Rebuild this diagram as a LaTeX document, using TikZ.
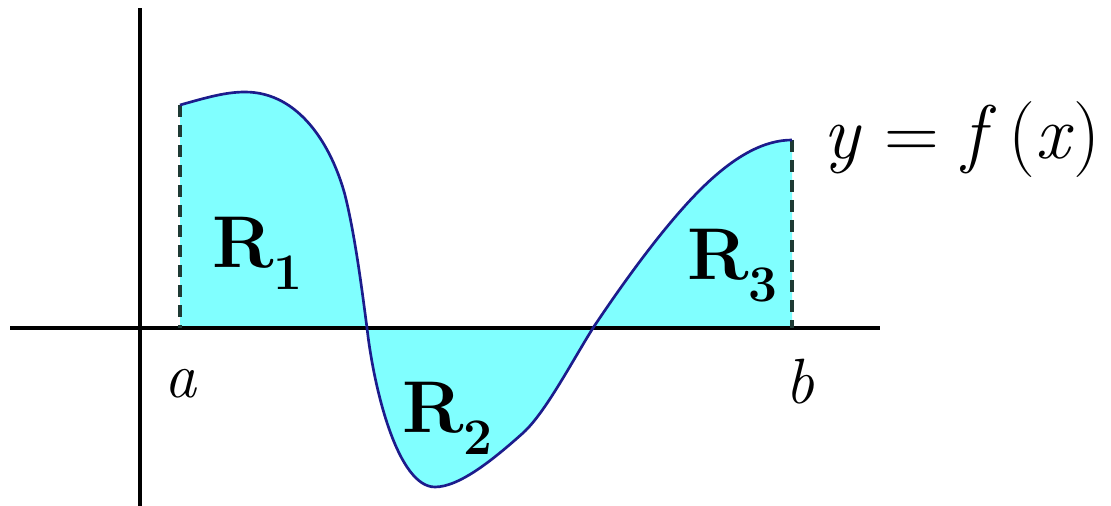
\documentclass[tikz,border=0pt]{standalone}
\usepackage{xcolor}
\definecolor{areafill}{HTML}{80FFFF}
\definecolor{curveblue}{HTML}{1C1C8C}
\definecolor{dashgray}{HTML}{1E3A34}
\usetikzlibrary{positioning}

\begin{document}
\begin{tikzpicture}[
  x=0.75pt, y=-0.75pt,
  axis/.style={line width=3pt, black},
  curve/.style={line width=2pt, curveblue},
  bound/.style={line width=2.6pt, dashgray, dash pattern=on 9pt off 6pt},
  reg/.style={font=\fontsize{55}{60}\selectfont\bfseries, inner sep=0pt},
  lbl/.style={font=\fontsize{48}{56}\selectfont\itshape, inner sep=0pt}
]
\useasboundingbox (0,0) rectangle (1111,506);
% the graph of f, used for the fill and the line
\def\fpath{(180,105) .. controls (205,98) and (225,92) .. (245,92)
  .. controls (300,92) and (332,147) .. (345,195)
  .. controls (355,235) and (362,290) .. (367,328)
  .. controls (374,390) and (398,487) .. (435,487)
  .. controls (460,487) and (495,458) .. (523,433)
  .. controls (545,413) and (570,365) .. (593,328)
  .. controls (625,280) and (665,225) .. (700,190)
  .. controls (735,155) and (765,140) .. (792,140)}
% region under the curve
\fill[areafill] (180,328) -- \fpath -- (792,328) -- cycle;
% axes
\coordinate (xl) at (10,328);
\coordinate (xr) at (880,328);
\coordinate (yb) at (140,506);
\coordinate (yt) at (140,8);
\draw[axis] (xl) -- (xr);
\draw[axis] (yb) -- (yt);
% bounds
\coordinate (fa) at (180,105);
\coordinate (a0) at (180,328);
\coordinate (fb) at (792,140);
\coordinate (b0) at (792,328);
\draw[bound] (fa) -- (a0);
\draw[bound] (fb) -- (b0);
% the curve
\draw[curve] \fpath;
% labels
\node[reg] (r1) at (258,253) {R\textsubscript{1}};
\node[reg] (r2) at (448,418) {R\textsubscript{2}};
\node[reg] (r3) at (733,266) {R\textsubscript{3}};
\node[lbl] (la) at (180,384) {a};
\node[lbl] (lb) at (800,382) {b};
\node[lbl, font=\fontsize{57}{62}\selectfont] (fx) at (962,140) {\textit{y} = \textit{f}\,(\textit{x})};
\end{tikzpicture}
\end{document}
